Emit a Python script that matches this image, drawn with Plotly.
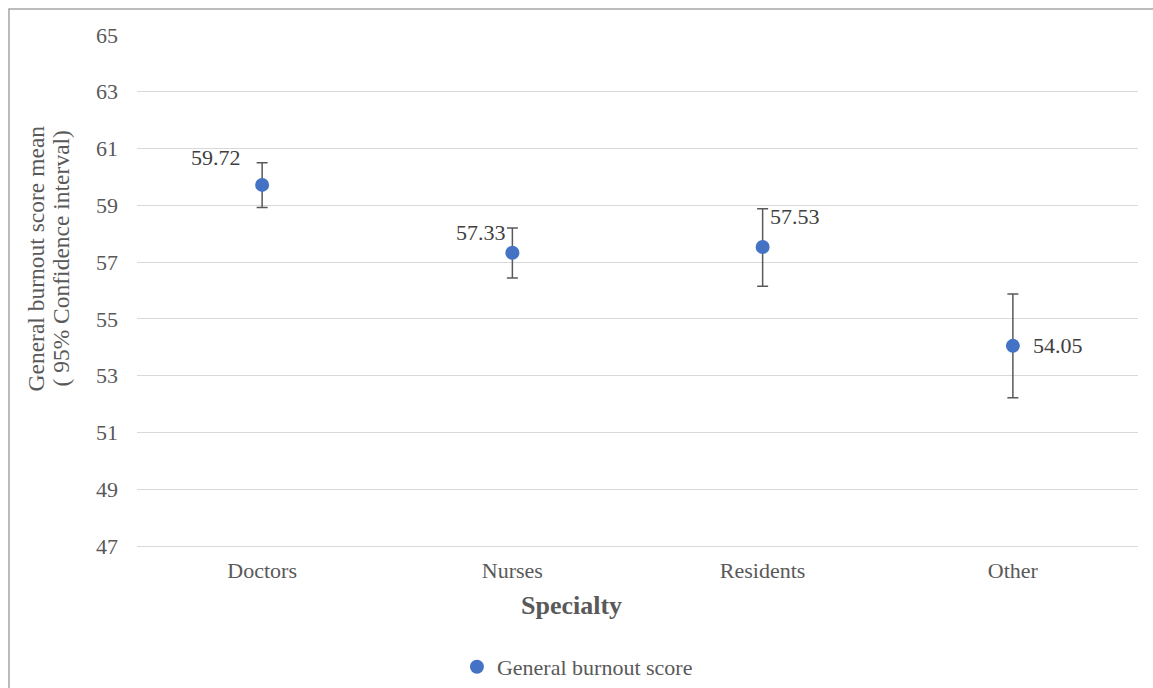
import plotly.graph_objects as go

categories = ["Doctors", "Nurses", "Residents", "Other"]
means = [59.72, 57.33, 57.53, 54.05]
ci_upper = [60.50, 58.20, 58.88, 55.88]
ci_lower = [58.92, 56.44, 56.15, 52.22]
label_text = ["59.72", "57.33", "57.53", "54.05"]
label_dx = [-46, -31, 32, 45]
label_dy = [27, 20, 31, 0]
y_ticks = [47, 49, 51, 53, 55, 57, 59, 61, 63, 65]
y_title_lines = ["General burnout score mean", "( 95% Confidence interval)"]

err_plus = [u - m for u, m in zip(ci_upper, means)]
err_minus = [m - l for m, l in zip(means, ci_lower)]

FONT = "Liberation Serif"
GREY = "#595959"

fig = go.Figure()
fig.add_trace(go.Scatter(
    x=categories, y=means, mode="markers", name="General burnout score",
    marker=dict(color="#4472C4", size=14),
    error_y=dict(type="data", symmetric=False, array=err_plus, arrayminus=err_minus,
                 color=GREY, thickness=1.5, width=5.5),
))

for c, m, t, dx, dy in zip(categories, means, label_text, label_dx, label_dy):
    fig.add_annotation(x=c, y=m, text=t, showarrow=False, xshift=dx, yshift=dy,
                       font=dict(family=FONT, size=22, color="#404040"))

fig.add_annotation(xref="paper", yref="paper", x=0.4336, y=-0.116, text="<b>Specialty</b>",
                   showarrow=False, font=dict(family=FONT, size=26, color=GREY),
                   xanchor="center", yanchor="middle")
for line, xp in zip(y_title_lines, [-0.1009, -0.0769]):
    fig.add_annotation(xref="paper", yref="paper", x=xp, y=0.5626, text=line,
                       textangle=-90, showarrow=False,
                       font=dict(family=FONT, size=23.5, color=GREY),
                       xanchor="center", yanchor="middle")

fig.add_shape(type="rect", xref="paper", yref="paper", x0=-0.1279, x1=1.03, y0=-0.35, y1=1.0509,
              line=dict(color="#a6a6a6", width=1.5), fillcolor="rgba(0,0,0,0)", layer="below")

fig.update_layout(
    width=1153, height=688,
    margin=dict(l=137, r=15, t=35, b=142),
    paper_bgcolor="white", plot_bgcolor="white",
    font=dict(family=FONT, size=22, color=GREY),
    showlegend=True,
    legend=dict(orientation="h", x=0.44, xanchor="center", yref="container", y=0.0305,
                yanchor="middle",
                font=dict(family=FONT, size=22, color=GREY), itemwidth=30,
                tracegroupgap=0),
    xaxis=dict(type="category", range=[-0.5, 3.5], showgrid=False, showline=True,
               linecolor="#d9d9d9", linewidth=1.3, zeroline=False,
               tickfont=dict(family=FONT, size=22, color=GREY), ticks="", ticklabelstandoff=4),
    yaxis=dict(range=[47, 65], tickvals=y_ticks, showgrid=True, gridcolor="#d9d9d9", gridwidth=1.3,
               zeroline=False, showline=False, ticks="",
               tickfont=dict(family=FONT, size=22, color=GREY), ticklabelstandoff=18),
)

fig.write_html("out.html", config={"displayModeBar": False},
               post_script="document.body.style.margin='0';")
